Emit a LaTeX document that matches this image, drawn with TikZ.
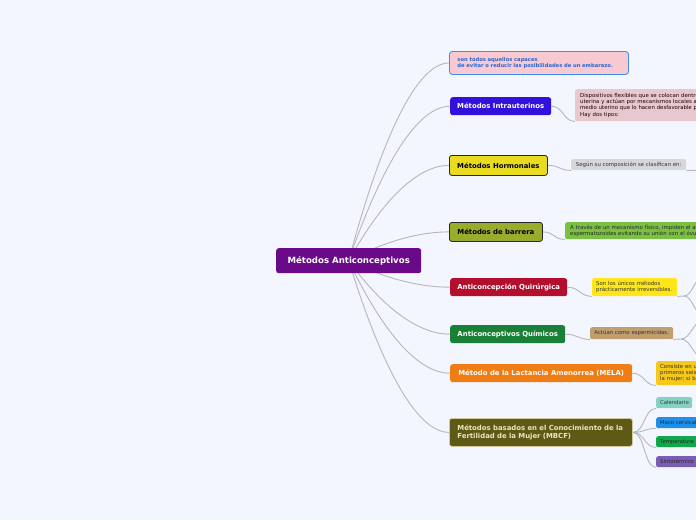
\documentclass[tikz,border=0pt]{standalone}
\usepackage{fontspec}
\setmainfont{DejaVu Sans}
\usetikzlibrary{calc}
\definecolor{bgc}{HTML}{F3F6FE}
\definecolor{linec}{HTML}{B6B6BC}
\definecolor{rootc}{HTML}{6B0A89}
\definecolor{pinkc}{HTML}{F9C9D1}
\definecolor{pinkb}{HTML}{3D8DF0}
\definecolor{pinkt}{HTML}{2068D8}
\definecolor{intrac}{HTML}{3311DD}
\definecolor{intras}{HTML}{E8C8CE}
\definecolor{hormc}{HTML}{E9DB1E}
\definecolor{hormsc}{HTML}{D7D7D9}
\definecolor{barc}{HTML}{9AAC2C}
\definecolor{barsc}{HTML}{7BC043}
\definecolor{quirc}{HTML}{B30E2E}
\definecolor{quirsc}{HTML}{FFE61A}
\definecolor{quimc}{HTML}{1B8037}
\definecolor{quimsc}{HTML}{C29D6E}
\definecolor{melac}{HTML}{F07C14}
\definecolor{melasc}{HTML}{F7C818}
\definecolor{mbcfc}{HTML}{5E5A16}
\definecolor{mbcfb}{HTML}{CFCA9E}
\definecolor{mbcft}{HTML}{EDE6BC}
\definecolor{calc}{HTML}{83D3C4}
\definecolor{mococ}{HTML}{1D90EA}
\definecolor{tempc}{HTML}{0FA84A}
\definecolor{sintoc}{HTML}{7A5DB3}
\pgfdeclarelayer{bglayer}
\pgfdeclarelayer{lines}
\pgfsetlayers{bglayer,lines,main}
\newcommand\rootlink[1]{\draw[conn] let \p1=(root.center), \p2=(#1.west) in (\p1) .. controls ({\x1+0.22*(\x2-\x1)},{\y1+0.42*(\y2-\y1)}) and ({\x1+0.6*(\x2-\x1)},{\y2}) .. (\p2);}
\newcommand\sublink[2]{\draw[conn] (#1.east) .. controls +(12,0) and +(-12,0) .. (#2.south west);}
\begin{document}
\begin{tikzpicture}[x=1pt,y=-1pt,
  conn/.style={draw=linec, line width=0.9pt},
  mainbox/.style={rounded corners=2.5pt, anchor=north west, inner sep=0pt, font=\bfseries\fontsize{6.9}{8.6}\selectfont, align=center},
  subbox/.style={rounded corners=2pt, anchor=north west, inner ysep=0pt, inner xsep=4.5pt, font=\fontsize{5.4}{6.3}\selectfont, align=left, text=black!85},
  onebox/.style={rounded corners=2pt, anchor=north west, inner sep=0pt, font=\fontsize{5.4}{6.3}\selectfont, align=center, text=black!85},
  tinybox/.style={rounded corners=2pt, anchor=north west, inner ysep=0pt, inner xsep=4pt, font=\fontsize{5.3}{6.3}\selectfont, align=left, text=black!85, minimum height=11pt},
  darkline/.style={draw=black!85, line width=0.8pt}
]
\useasboundingbox (0,0) rectangle (696,520);
\begin{pgfonlayer}{bglayer}
\fill[bgc] (0,0) rectangle (696,520);
\end{pgfonlayer}

% root
\node[mainbox, fill=rootc, text=white, font=\bfseries\fontsize{8.6}{10}\selectfont, minimum width=145pt, minimum height=25pt] (root) at (276,248) {Métodos Anticonceptivos};

% definition
\node[subbox, fill=pinkc, draw=pinkb, line width=0.9pt, rounded corners=3pt, text=pinkt, font=\bfseries\fontsize{5.2}{6.5}\selectfont, inner xsep=8pt, text width=163pt, minimum height=23pt] (def) at (449,51) {son todos aquellos capaces\\de evitar o reducir las posibilidades de un embarazo.};

% main branches
\node[mainbox, fill=intrac, text=white, minimum width=101pt, minimum height=18pt] (intra) at (450,97) {Métodos Intrauterinos};
\node[mainbox, fill=hormc, darkline, text=black, minimum width=98pt, minimum height=20pt] (horm) at (449,155) {Métodos Hormonales};
\node[mainbox, fill=barc, darkline, text=black, minimum width=93pt, minimum height=19pt] (barr) at (449,222) {Métodos de barrera};
\node[mainbox, fill=quirc, text=white, minimum width=117pt, minimum height=18pt] (quir) at (450,278) {Anticoncepción Quirúrgica};
\node[mainbox, fill=quimc, text=white, minimum width=115pt, minimum height=18pt] (quim) at (450,325) {Anticonceptivos Químicos};
\node[mainbox, fill=melac, text=white, minimum width=182pt, minimum height=18pt] (mela) at (450,364) {Método de la Lactancia Amenorrea (MELA)};
\node[mainbox, fill=mbcfc, draw=mbcfb, line width=0.8pt, text=mbcft, align=left, inner xsep=8pt, text width=167pt, minimum height=28pt] (mbcf) at (449,418) {Métodos basados en el Conocimiento de la\\Fertilidad de la Mujer (MBCF)};

% sub nodes
\node[subbox, fill=intras, text=black!75!red!40!black, inner xsep=5pt, text width=260pt, minimum height=32pt] (intras) at (575,89) {Dispositivos flexibles que se colocan dentro de la cavidad\\uterina y actúan por mecanismos locales alterando el\\medio uterino que lo hacen desfavorable para\\Hay dos tipos:};
\node[onebox, fill=hormsc, text=black!80, minimum width=115pt, minimum height=11pt] (hormsub) at (571,159) {Según su composición se clasifican en:};
\node[subbox, fill=barsc, text=black!85, inner xsep=5pt, text width=260pt, minimum height=17pt] (barsub) at (565,222) {A través de un mecanismo físico, impiden el acceso de los\\espermatozoides evitando su unión con el óvulo.};
\node[subbox, fill=quirsc, text=black!80, inner xsep=4pt, text width=77pt, minimum height=18pt] (quirsub) at (592,278) {Son los únicos métodos\\prácticamente irreversibles.};
\node[onebox, fill=quimsc, text=black!80, minimum width=83pt, minimum height=12pt] (quimsub) at (590,327) {Actúan como espermicidas.};
\node[subbox, fill=melasc, text=black!80, inner xsep=4pt, text width=200pt, minimum height=24pt] (melasub) at (656,361) {Consiste en utilizar la lactancia materna\\primeros seis meses después del parto\\la mujer; si bien};
\node[tinybox, fill=calc, text=black!80, text width=28pt] (cal) at (656,397) {Calendario};
\node[tinybox, fill=mococ, text=black!85, text width=52pt] (moco) at (656,417) {Moco cervical};
\node[tinybox, fill=tempc, text=black!85, text width=34pt] (temp) at (656,436) {Temperatura};
\node[tinybox, fill=sintoc, text=black!85, text width=50pt] (sinto) at (656,456) {Sintotérmico};

% off-canvas continuation points
\coordinate (hormout) at (720,170);
\coordinate (qj) at (684,296);
\coordinate (qa) at (712,272);
\coordinate (qb) at (712,320);
\coordinate (mj) at (681,339);
\coordinate (ma) at (710,318);
\coordinate (mb) at (710,360);

\begin{pgfonlayer}{lines}
\rootlink{def}
\rootlink{intra}
\rootlink{horm}
\rootlink{barr}
\rootlink{quir}
\rootlink{quim}
\rootlink{mela}
\rootlink{mbcf}
\sublink{intra}{intras}
\sublink{horm}{hormsub}
\sublink{barr}{barsub}
\sublink{quir}{quirsub}
\sublink{quim}{quimsub}
\sublink{mela}{melasub}
\sublink{mbcf}{cal}
\sublink{mbcf}{moco}
\sublink{mbcf}{temp}
\sublink{mbcf}{sinto}
\draw[conn] (hormsub.south east) -- (hormout);
\draw[conn] (quirsub.south east) -- (qj) .. controls (694,296) and (694,272) .. (qa);
\draw[conn] (qj) .. controls (694,296) and (694,320) .. (qb);
\draw[conn] (quimsub.south east) -- (mj) .. controls (692,339) and (692,318) .. (ma);
\draw[conn] (mj) .. controls (692,339) and (692,360) .. (mb);
\end{pgfonlayer}
\end{tikzpicture}
\end{document}
